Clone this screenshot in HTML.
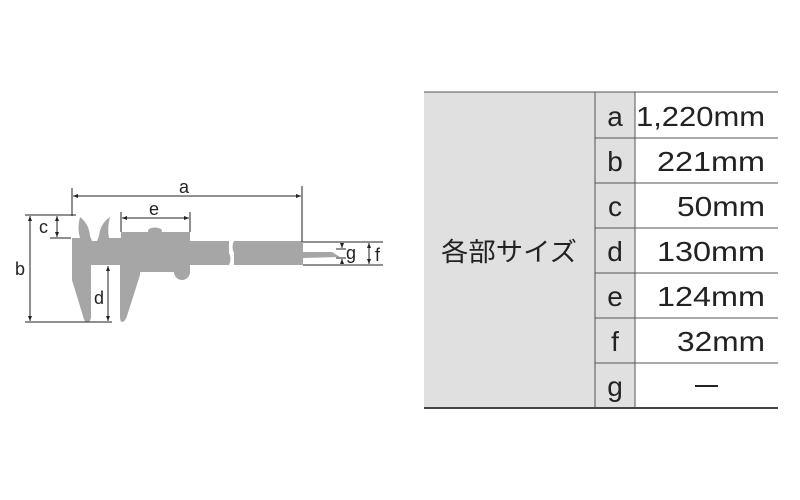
<!DOCTYPE html>
<html><head><meta charset="utf-8"><style>
body{margin:0;background:#fff;}
</style></head><body>
<div style="position:relative;width:800px;height:500px;overflow:hidden">
<svg width="800" height="500" style="position:absolute;left:0;top:0" xmlns="http://www.w3.org/2000/svg">
<defs><marker id="ar" viewBox="0 0 10 10" refX="10" refY="5" markerWidth="7" markerHeight="5" orient="auto-start-reverse"><path d="M0,1 L10,5 L0,9 z" fill="#222"/></marker></defs>
<g fill="#a6a6a6">
<rect x="72" y="241" width="157" height="24"/>
<rect x="234" y="241" width="69" height="24"/>
<path d="M229,241 q-3,6 0,12 q3,6 0,12 z" />
<path d="M234,241 q-3,6 0,12 q3,6 0,12 z" />
<path d="M72,241 L72,238 L80,238 Q77,228 80,217 Q89,224 90,236 L92,241 z"/>
<path d="M97,241 L99,236 Q100,224 110,217 Q107,228 109,238 L121,238 L121,241 z"/>
<rect x="121" y="232" width="69" height="40"/>
<ellipse cx="155" cy="231" rx="7" ry="3.5"/>
<circle cx="182" cy="272" r="8"/>
<rect x="174" y="265" width="16" height="8"/>
<path d="M72,265 L91,265 L91,316 Q91,322 87,322 Q84,322 83,316 L72,280 z"/>
<path d="M120,265 L140,265 L140,275 L127,316 Q125,322 122,322 Q120,322 120,316 z"/>
<path d="M303,252 L332,252 L340,257 L303,258 z"/>
</g>
<g stroke="#222" stroke-width="1" fill="none">
<line x1="72" y1="188" x2="72" y2="216"/>
<line x1="302" y1="186" x2="302" y2="242"/>
<line x1="73" y1="196" x2="301" y2="196" marker-start="url(#ar)" marker-end="url(#ar)"/>
<line x1="121" y1="212" x2="121" y2="232"/>
<line x1="190" y1="212" x2="190" y2="232"/>
<line x1="122" y1="218" x2="189" y2="218" marker-start="url(#ar)" marker-end="url(#ar)"/>
<line x1="25" y1="215" x2="76" y2="215"/>
<line x1="50" y1="238" x2="71" y2="238"/>
<line x1="25" y1="322" x2="112" y2="322"/>
<line x1="57" y1="216" x2="57" y2="237" marker-start="url(#ar)" marker-end="url(#ar)"/>
<line x1="30" y1="216" x2="30" y2="321" marker-start="url(#ar)" marker-end="url(#ar)"/>
<line x1="108" y1="266" x2="108" y2="321" marker-start="url(#ar)" marker-end="url(#ar)"/>
<line x1="303" y1="242" x2="383" y2="242"/>
<line x1="303" y1="265" x2="383" y2="265"/>
<line x1="336" y1="249" x2="346" y2="249"/>
<line x1="336" y1="258" x2="346" y2="258"/>
<line x1="342" y1="243" x2="342" y2="248" marker-end="url(#ar)"/>
<line x1="342" y1="264" x2="342" y2="259" marker-end="url(#ar)"/>
<line x1="369" y1="243" x2="369" y2="264" marker-start="url(#ar)" marker-end="url(#ar)"/>
</g>
<g font-family="Liberation Sans, sans-serif" font-size="18" fill="#222">
<text x="179" y="193">a</text>
<text x="149" y="215">e</text>
<text x="39" y="233">c</text>
<text x="15" y="275">b</text>
<text x="94" y="304">d</text>
<text x="346" y="259">g</text>
<text x="375" y="261">f</text>
</g>
<rect x="424" y="92" width="171" height="316" fill="#e0e0e0"/>
<rect x="595" y="92" width="40" height="316" fill="#e0e0e0"/>
<g stroke="#555" stroke-width="1">
<line x1="424" y1="92" x2="778" y2="92"/>
<line x1="595" y1="92" x2="595" y2="408"/>
<line x1="635" y1="92" x2="635" y2="408"/>
<line x1="595" y1="138" x2="778" y2="138"/>
<line x1="595" y1="183" x2="778" y2="183"/>
<line x1="595" y1="228" x2="778" y2="228"/>
<line x1="595" y1="273" x2="778" y2="273"/>
<line x1="595" y1="318" x2="778" y2="318"/>
<line x1="595" y1="363" x2="778" y2="363"/>
</g>
<line x1="424" y1="408" x2="778" y2="408" stroke="#444" stroke-width="2"/>
<g font-family="Liberation Sans, Noto Sans CJK JP, sans-serif" font-size="28" fill="#222">
<text x="441" y="261" font-size="26" textLength="136" lengthAdjust="spacingAndGlyphs">各部サイズ</text>
<g text-anchor="middle">
<text x="615" y="126">a</text><text x="615" y="171">b</text><text x="615" y="216">c</text>
<text x="615" y="261">d</text><text x="615" y="306">e</text><text x="615" y="351">f</text>
<text x="615" y="396">g</text>
</g>
<text x="636" y="126" textLength="129" lengthAdjust="spacingAndGlyphs">1,220mm</text>
<text x="657" y="171" textLength="108" lengthAdjust="spacingAndGlyphs">221mm</text>
<text x="677" y="216" textLength="88" lengthAdjust="spacingAndGlyphs">50mm</text>
<text x="657" y="261" textLength="108" lengthAdjust="spacingAndGlyphs">130mm</text>
<text x="657" y="306" textLength="108" lengthAdjust="spacingAndGlyphs">124mm</text>
<text x="677" y="351" textLength="88" lengthAdjust="spacingAndGlyphs">32mm</text>
<rect x="695" y="385" width="23" height="2" fill="#222"/>
</g>
</svg>
</div>
</body></html>
